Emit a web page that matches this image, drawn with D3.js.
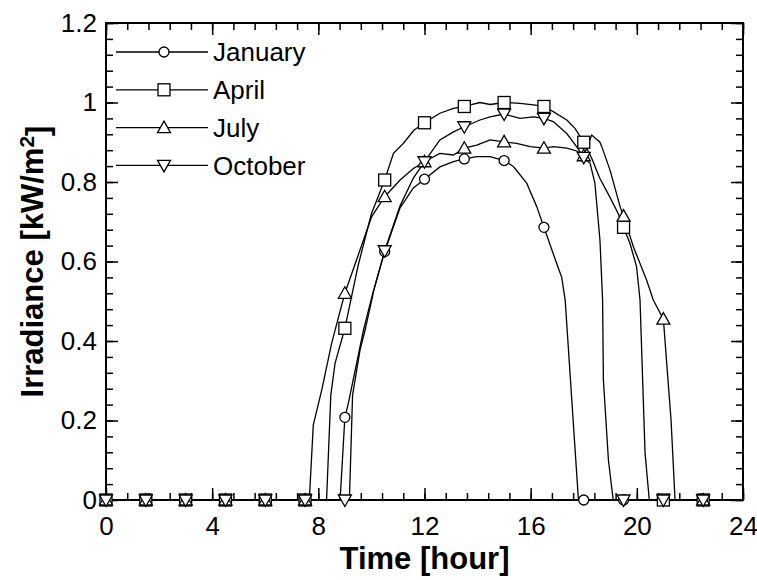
<!DOCTYPE html>
<html>
<head>
<meta charset="utf-8">
<script src="https://cdn.jsdelivr.net/npm/d3@7"></script>
<style>
  body { margin: 0; background: #fff; }
  svg text { font-family: "Liberation Sans", Arial, sans-serif; fill: #000; }
</style>
</head>
<body>
<svg id="chart" width="757" height="580"></svg>
<script>
// marker hours (every 1.5 h)
var markerHours = [0, 1.5, 3, 4.5, 6, 7.5, 9, 10.5, 12, 13.5, 15, 16.5, 18, 19.5, 21, 22.5];

// marker values per month (kW/m2)
var janMarkers = [0, 0, 0, 0, 0, 0, 0.208, 0.625, 0.807, 0.858, 0.854, 0.686, 0, 0, 0, 0];
var aprMarkers = [0, 0, 0, 0, 0, 0, 0.432, 0.805, 0.949, 0.99, 1.0, 0.99, 0.9, 0.686, 0, 0];
var julMarkers = [0, 0, 0, 0, 0, 0, 0.52, 0.763, 0.851, 0.885, 0.901, 0.885, 0.866, 0.714, 0.455, 0];
var octMarkers = [0, 0, 0, 0, 0, 0, 0, 0.627, 0.851, 0.939, 0.971, 0.96, 0.862, 0, 0, 0];

var janLine = [[0,0],[8.82,0],[9,0.208],[9.13,0.243],[9.7,0.427],[10.05,0.52],[10.5,0.625],[11.08,0.735],[11.58,0.785],[12,0.807],
  [12.58,0.838],[13.09,0.851],[13.5,0.858],[13.97,0.864],[14.47,0.864],[15,0.854],[15.35,0.839],[15.85,0.797],[16.23,0.738],
  [16.5,0.686],[16.98,0.595],[17.17,0.56],[17.3,0.503],[17.8,0],[22.5,0]];
var aprLine = [[0,0],[8.31,0],[8.47,0.264],[8.63,0.344],[9,0.432],[9.5,0.59],[10,0.72],[10.5,0.805],[10.83,0.872],[11.2,0.897],
  [11.6,0.93],[12,0.949],[12.58,0.973],[13.09,0.985],[13.5,0.99],[14.09,1.0],[14.47,0.995],[15,1.0],[15.6,0.998],[16.1,0.994],
  [16.5,0.99],[16.85,0.977],[17.36,0.956],[17.67,0.935],[18,0.9],[18.3,0.86],[18.6,0.81],[19,0.76],[19.3,0.72],[19.5,0.686],
  [19.74,0.646],[19.99,0.587],[20.12,0.503],[20.31,0.118],[20.47,0],[22.5,0]];
var julLine = [[0,0],[7.66,0],[7.81,0.189],[8.13,0.277],[8.5,0.394],[8.8,0.47],[9,0.52],[9.57,0.629],[10.01,0.713],[10.5,0.763],
  [11.08,0.805],[11.58,0.834],[12,0.851],[12.58,0.872],[13.09,0.868],[13.5,0.885],[13.97,0.893],[14.47,0.906],[15,0.901],
  [15.47,0.897],[15.98,0.889],[16.5,0.885],[16.85,0.889],[17.36,0.885],[17.73,0.878],[18,0.866],[18.3,0.918],[18.61,0.9],
  [18.68,0.889],[18.99,0.83],[19.37,0.738],[19.5,0.714],[19.87,0.637],[20.37,0.553],[20.62,0.503],[21,0.455],[21.29,0.2],
  [21.44,0],[22.5,0]];
var octLine = [[0,0],[9.17,0],[9.29,0.264],[9.57,0.377],[9.76,0.427],[10.1,0.53],[10.5,0.627],[11.08,0.74],[11.58,0.81],[12,0.851],
  [12.58,0.906],[13.09,0.926],[13.5,0.939],[14.09,0.956],[14.47,0.964],[15,0.971],[15.6,0.96],[16.1,0.964],[16.5,0.96],
  [16.85,0.952],[17.36,0.922],[17.73,0.889],[18,0.862],[18.24,0.847],[18.42,0.797],[18.61,0.654],[18.71,0.503],[18.74,0.302],
  [18.93,0.1],[19.11,0],[22.5,0]];

var monthNames = ["January", "April", "July", "October"];
var xTicks = [0, 4, 8, 12, 16, 20, 24];
var yTicks = [0, 0.2, 0.4, 0.6, 0.8, 1, 1.2];

var series = [
  {name: monthNames[0], line: janLine, markers: janMarkers, symbol: "circle"},
  {name: monthNames[1], line: aprLine, markers: aprMarkers, symbol: "square"},
  {name: monthNames[2], line: julLine, markers: julMarkers, symbol: "up"},
  {name: monthNames[3], line: octLine, markers: octMarkers, symbol: "down"}
];

var margin = {top: 23, right: 14, bottom: 80, left: 106};
var width = 757 - margin.left - margin.right;
var height = 580 - margin.top - margin.bottom;

var svg = d3.select("#chart");
var g = svg.append("g")
    .attr("transform", "translate(" + margin.left + "," + margin.top + ")");

var x = d3.scaleLinear().domain([0, 24]).range([0, width]);
var y = d3.scaleLinear().domain([0, 1.2]).range([height, 0]);

var xMinor = d3.range(0, 24.01, 0.8);
var yMinor = d3.range(0, 1.201, 0.04);

// minor ticks on all four sides, pointing in
g.append("g").attr("transform", "translate(0," + height + ")")
  .call(d3.axisBottom(x).tickValues(xMinor).tickSize(-7).tickFormat(""));
g.append("g")
  .call(d3.axisTop(x).tickValues(xMinor).tickSize(-7).tickFormat(""));
g.append("g")
  .call(d3.axisLeft(y).tickValues(yMinor).tickSize(-7).tickFormat(""));
g.append("g").attr("transform", "translate(" + width + ",0)")
  .call(d3.axisRight(y).tickValues(yMinor).tickSize(-7).tickFormat(""));

// major ticks with labels
g.append("g").attr("transform", "translate(0," + height + ")")
  .call(d3.axisBottom(x).tickValues(xTicks).tickSize(-12).tickPadding(17).tickFormat(d3.format("d")));
g.append("g")
  .call(d3.axisTop(x).tickValues(xTicks).tickSize(-12).tickFormat(""));
g.append("g")
  .call(d3.axisLeft(y).tickValues(yTicks).tickSize(-12).tickPadding(9).tickFormat(function(d) { return +d.toFixed(1); }));
g.append("g").attr("transform", "translate(" + width + ",0)")
  .call(d3.axisRight(y).tickValues(yTicks).tickSize(-12).tickFormat(""));

g.selectAll(".domain").remove();
g.selectAll(".tick line").attr("stroke", "#000").attr("stroke-width", 1.5);
g.selectAll(".tick text").style("font-size", "26px").attr("fill", "#000");

// frame
g.append("rect")
  .attr("width", width).attr("height", height)
  .attr("fill", "none").attr("stroke", "#000").attr("stroke-width", 2);

// axis titles
svg.append("text")
  .attr("x", margin.left + width / 2).attr("y", 569)
  .attr("text-anchor", "middle")
  .style("font-size", "31px").style("font-weight", "bold")
  .text("Time [hour]");

var yt = svg.append("text")
  .attr("transform", "translate(43," + (margin.top + height / 2) + ") rotate(-90)")
  .attr("text-anchor", "middle")
  .style("font-size", "31px").style("font-weight", "bold");
yt.append("tspan").text("Irradiance [kW/m");
yt.append("tspan").attr("dy", "-0.45em").style("font-size", "21px").text("2");
yt.append("tspan").attr("dy", "0.45em").text("]");

function drawSymbol(sel, type, cx, cy) {
  var s;
  if (type === "circle") {
    s = sel.append("circle").attr("cx", cx).attr("cy", cy).attr("r", 5);
  } else if (type === "square") {
    s = sel.append("rect").attr("x", cx - 6).attr("y", cy - 6).attr("width", 12).attr("height", 12);
  } else if (type === "up") {
    s = sel.append("path").attr("d", "M" + cx + "," + (cy - 6.5) + "L" + (cx + 6.5) + "," + (cy + 5) + "L" + (cx - 6.5) + "," + (cy + 5) + "Z");
  } else {
    s = sel.append("path").attr("d", "M" + cx + "," + (cy + 6.5) + "L" + (cx + 6.5) + "," + (cy - 5) + "L" + (cx - 6.5) + "," + (cy - 5) + "Z");
  }
  s.attr("fill", "#fff").attr("stroke", "#000").attr("stroke-width", 1.3);
}

var line = d3.line()
  .x(function(d) { return x(d[0]); })
  .y(function(d) { return y(d[1]); });

var plot = g.append("g");
series.forEach(function(s) {
  plot.append("path")
    .datum(s.line)
    .attr("d", line)
    .attr("fill", "none")
    .attr("stroke", "#000")
    .attr("stroke-width", 1.3);
});
series.forEach(function(s) {
  var mg = plot.append("g");
  markerHours.forEach(function(h, i) {
    drawSymbol(mg, s.symbol, x(h), y(s.markers[i]));
  });
});

// legend
var legend = svg.append("g");
series.forEach(function(s, i) {
  var ly = 52 + i * 37.8;
  legend.append("line")
    .attr("x1", 116).attr("x2", 208).attr("y1", ly).attr("y2", ly)
    .attr("stroke", "#000").attr("stroke-width", 1.3);
  drawSymbol(legend, s.symbol, 164, ly);
  legend.append("text")
    .attr("x", 213).attr("y", ly).attr("dy", "0.36em")
    .style("font-size", "26px")
    .text(s.name);
});
</script>
</body>
</html>
